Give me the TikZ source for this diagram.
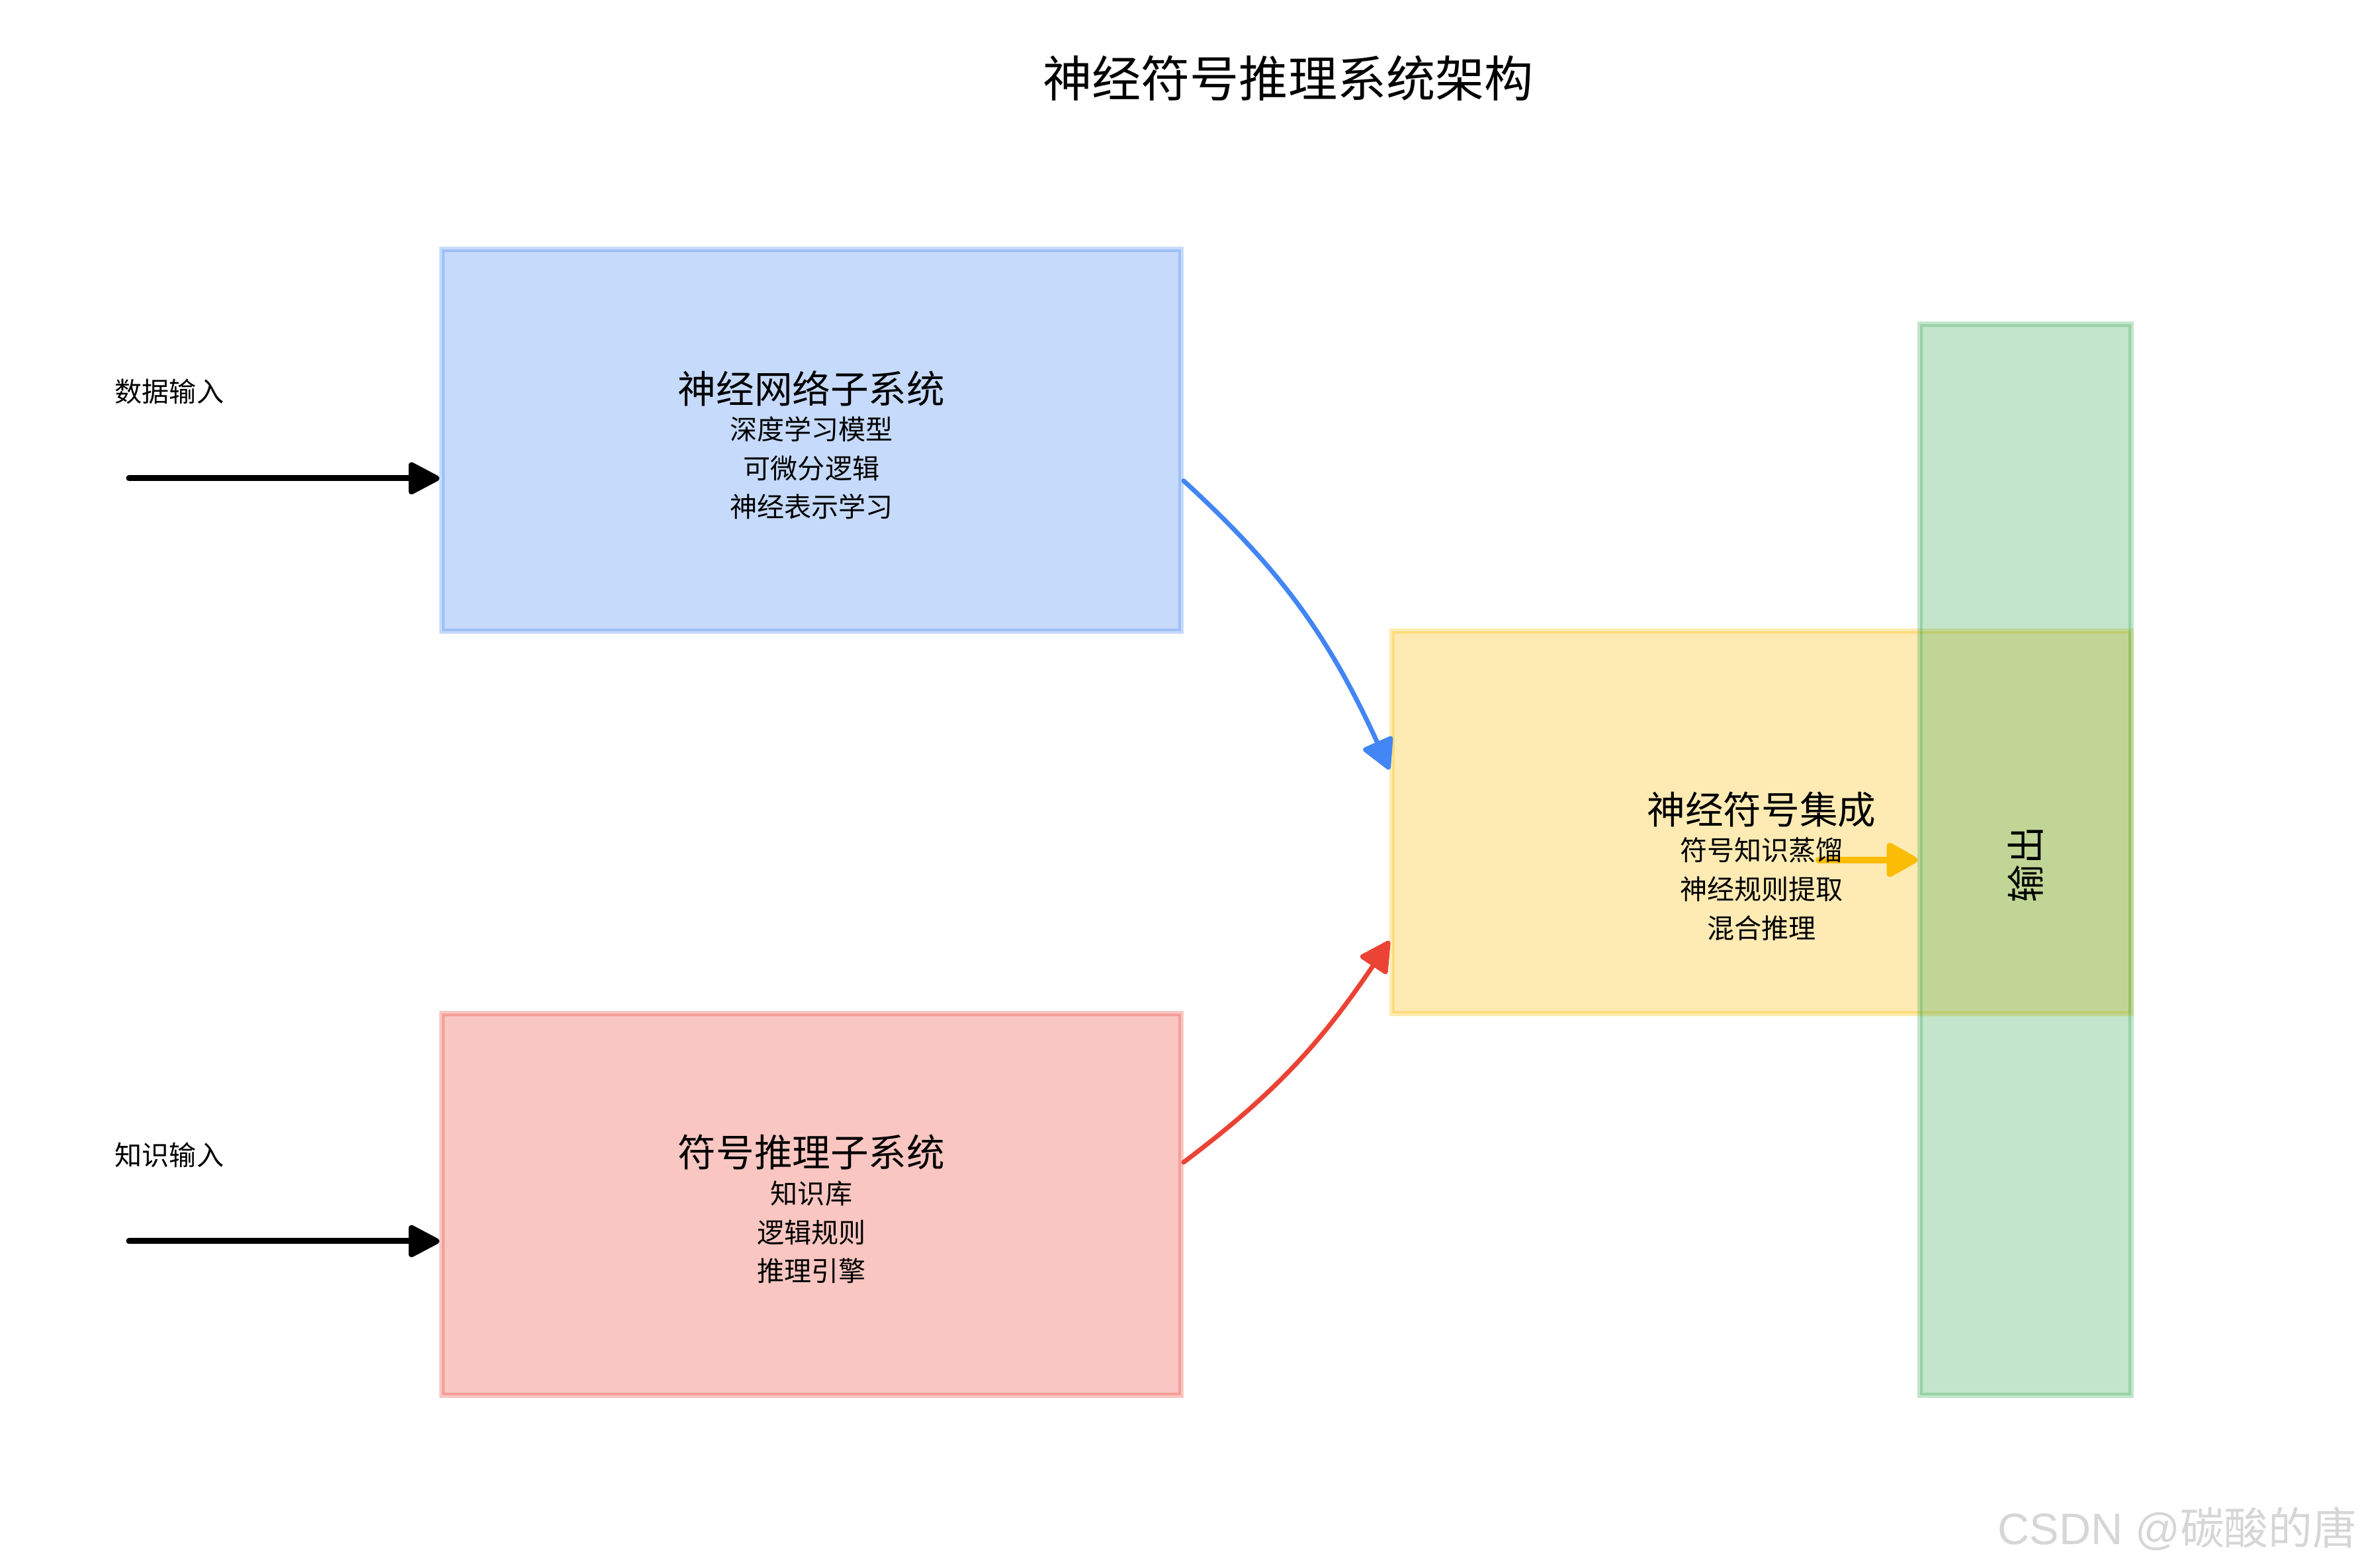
\documentclass[tikz,border=0pt]{standalone}
\usepackage{fontspec}
\setmainfont{Noto Sans CJK SC}
\newfontfamily\latinmark{Liberation Sans}
\usetikzlibrary{arrows.meta,bending}
\definecolor{gblue}{HTML}{4285F4}
\definecolor{gred}{HTML}{EA4335}
\definecolor{gyellow}{HTML}{FBBC05}
\definecolor{ggreen}{HTML}{34A853}
\begin{document}
\begin{tikzpicture}%
	[
	x={(1.000000cm, 0.000000cm)},
	y={(0.000000cm, 1.000000cm)},
	box/.style={rectangle, inner sep=0pt, line width=0.08cm, draw opacity=0.3, fill opacity=0.3, minimum width=11.17cm, minimum height=5.775cm},
	maintitle/.style={inner sep=0pt, font=\fontsize{21.1}{25}\selectfont},
	boxhead/.style={inner sep=0pt, font=\fontsize{16.4}{20}\selectfont},
	boxline/.style={inner sep=0pt, font=\fontsize{11.7}{14}\selectfont},
	inlabel/.style={inner sep=0pt, anchor=west, font=\fontsize{11.7}{14}\selectfont},
	watermark/.style={inner sep=0pt, anchor=east, text=black!16, font=\fontsize{19}{22}\selectfont},
	feed/.style={line width=0.09cm, line cap=round, -{Triangle[length=0.52cm, width=0.52cm, round]}},
	neuralflow/.style={color=gblue, line width=0.07cm, line cap=round, -{Triangle[length=0.50cm, width=0.52cm, round]}},
	symbolflow/.style={color=gred, line width=0.07cm, line cap=round, -{Triangle[length=0.50cm, width=0.52cm, round]}},
	fusionflow/.style={color=gyellow, line width=0.10cm, line cap=round, -{Triangle[length=0.52cm, width=0.56cm, round]}}]

\useasboundingbox (0,0) rectangle (35.7,23.7);

\node[box, fill=gblue, draw=gblue] (neural) at (12.265,17.0425) {};
\node[box, fill=gred, draw=gred] (symbolic) at (12.265,5.4925) {};
\node[box, fill=gyellow, draw=gyellow] (fusion) at (26.625,11.2675) {};
\node[box, fill=ggreen, draw=ggreen, minimum width=3.19cm, minimum height=16.195cm] (output) at (30.615,10.7025) {};

\coordinate (datain) at (1.95,16.47);
\coordinate (knowin) at (1.95,4.94);
\coordinate (fusionout) at (27.49,10.7025);

\draw[feed] (datain) -- (datain -| neural.west);
\draw[feed] (knowin) -- (knowin -| symbolic.west);
\draw[neuralflow] ([yshift=-0.61cm]neural.east) to[bend left=12] ([yshift=0.80cm]fusion.west);
\draw[symbolflow] ([yshift=0.64cm]symbolic.east) to[bend right=10] ([yshift=-1.79cm]fusion.west);
\draw[fusionflow] (fusionout) -- (output.west);

\node[maintitle] (title) at (19.47,22.52) {神经符号推理系统架构};

\node[inlabel] (datalabel) at (1.73,17.78) {数据输入};
\node[inlabel] (knowlabel) at (1.73,6.24) {知识输入};

\node[boxhead] (neuralhead) at ([yshift=0.79cm]neural.center) {神经网络子系统};
\node[boxline] (neuralone) at ([yshift=0.17cm]neural.center) {深度学习模型};
\node[boxline] (neuraltwo) at ([yshift=-0.42cm]neural.center) {可微分逻辑};
\node[boxline] (neuralthree) at ([yshift=-1.00cm]neural.center) {神经表示学习};

\node[boxhead] (symbolichead) at ([yshift=0.79cm]symbolic.center) {符号推理子系统};
\node[boxline] (symbolicone) at ([yshift=0.17cm]symbolic.center) {知识库};
\node[boxline] (symbolictwo) at ([yshift=-0.42cm]symbolic.center) {逻辑规则};
\node[boxline] (symbolicthree) at ([yshift=-1.00cm]symbolic.center) {推理引擎};

\node[boxhead] (fusionhead) at ([yshift=0.20cm]fusion.center) {神经符号集成};
\node[boxline] (fusionone) at ([yshift=-0.42cm]fusion.center) {符号知识蒸馏};
\node[boxline] (fusiontwo) at ([yshift=-1.01cm]fusion.center) {神经规则提取};
\node[boxline] (fusionthree) at ([yshift=-1.60cm]fusion.center) {混合推理};

\node[boxhead, rotate=90] (outputlabel) at ([yshift=-0.07cm]output.center) {输出};

\node[watermark] (mark) at (35.63,0.59) {{\latinmark CSDN @}碳酸的唐};
\end{tikzpicture}
\end{document}
